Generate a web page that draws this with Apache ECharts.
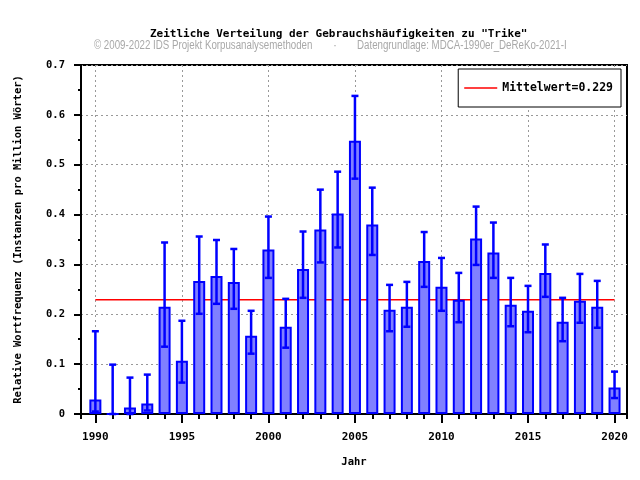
<!DOCTYPE html>
<html><head><meta charset="utf-8">
<script src="https://cdn.jsdelivr.net/npm/echarts@6/dist/echarts.min.js"></script>
<style>html,body{margin:0;padding:0;background:#fff}#c{width:640px;height:480px}</style>
</head><body><div id="c"></div>
<script>
const years = [1990,1991,1992,1993,1994,1995,1996,1997,1998,1999,2000,2001,2002,2003,2004,2005,2006,2007,2008,2009,2010,2011,2012,2013,2014,2015,2016,2017,2018,2019,2020];
const values = [0.029,0,0.013,0.021,0.215,0.107,0.267,0.277,0.265,0.157,0.330,0.175,0.291,0.370,0.402,0.548,0.380,0.209,0.215,0.307,0.255,0.229,0.352,0.324,0.219,0.207,0.283,0.185,0.227,0.215,0.053];
const errLow = [0.005,0,0,0.007,0.135,0.063,0.201,0.221,0.211,0.121,0.273,0.133,0.233,0.304,0.334,0.472,0.319,0.166,0.175,0.255,0.207,0.184,0.299,0.273,0.176,0.164,0.235,0.146,0.183,0.173,0.032];
const errHigh = [0.166,0.099,0.073,0.079,0.344,0.187,0.356,0.349,0.331,0.207,0.396,0.231,0.366,0.450,0.486,0.638,0.454,0.259,0.265,0.365,0.313,0.283,0.416,0.384,0.273,0.257,0.340,0.233,0.281,0.267,0.085];
const meanValue = 0.229;

const mono = '"DejaVu Sans Mono", monospace';
const sans = '"Liberation Sans", Arial, sans-serif';
const chart = echarts.init(document.getElementById('c'), null, {renderer: 'canvas'});
const xMin = 1989.17, xMax = 2020.72;
const meanName = 'Mittelwert=' + meanValue;

const option = {
  animation: false,
  backgroundColor: '#fff',
  graphic: [
    {type: 'text', x: 150, y: 34, style: {text: 'Zeitliche Verteilung der Gebrauchshäufigkeiten zu "Trike"', font: 'bold 11px ' + mono, fill: '#000', verticalAlign: 'middle'}},
    {type: 'text', x: 94, y: 46, scaleX: 0.81, style: {text: '© 2009-2022 IDS Projekt Korpusanalysemethoden', font: '12px ' + sans, fill: '#a8a8a8', verticalAlign: 'middle'}},
    {type: 'text', x: 333, y: 46, style: {text: '·', font: '12px ' + sans, fill: '#a8a8a8', verticalAlign: 'middle'}},
    {type: 'text', x: 357, y: 46, scaleX: 0.81, style: {text: 'Datengrundlage: MDCA-1990er_DeReKo-2021-I', font: '12px ' + sans, fill: '#a8a8a8', verticalAlign: 'middle'}}
  ],
  grid: {left: 81, right: 13, top: 65, bottom: 66, show: true, borderColor: '#000', borderWidth: 2, backgroundColor: 'transparent'},
  legend: {
    right: 19, top: 69, orient: 'vertical',
    backgroundColor: '#fff', borderColor: '#000', borderWidth: 1,
    padding: [13, 8, 13, 6],
    itemWidth: 33, itemHeight: 12, itemGap: 4,
    textStyle: {fontFamily: mono, fontWeight: 'bold', fontSize: 11.5, color: '#000'},
    data: [{name: meanName, icon: 'path://M0,0L33,0L33,1.5L0,1.5Z'}]
  },
  xAxis: [
    {type: 'value', min: xMin, max: xMax, splitNumber: 31, minInterval: 1, maxInterval: 1,
     axisLine: {show: true, lineStyle: {color: '#000', width: 2}},
     axisTick: {show: true, length: 5, inside: false, lineStyle: {color: '#000', width: 2}},
     axisLabel: {show: false}, splitLine: {show: false}},
    {type: 'value', min: xMin, max: xMax, splitNumber: 6, minInterval: 5, maxInterval: 5, position: 'bottom',
     axisLine: {show: false},
     axisTick: {show: true, length: 9, lineStyle: {color: '#000', width: 2}},
     axisLabel: {show: true, showMinLabel: false, showMaxLabel: false, margin: 18, fontFamily: mono, fontWeight: 'bold', fontSize: 11, color: '#000', formatter: v => String(v)},
     splitLine: {show: true, showMinLine: false, showMaxLine: false, lineStyle: {color: '#999', type: [2, 3], width: 1}},
     name: 'Jahr', nameLocation: 'middle', nameGap: 43,
     nameTextStyle: {fontFamily: mono, fontWeight: 'bold', fontSize: 10.5, color: '#000'}}
  ],
  yAxis: {
    type: 'value', min: 0, max: 0.7, interval: 0.1,
    axisLine: {show: true, lineStyle: {color: '#000', width: 2}},
    axisTick: {show: true, length: 7, lineStyle: {color: '#000', width: 2}},
    minorTick: {show: true, splitNumber: 2, length: 3, lineStyle: {color: '#000', width: 2}},
    axisLabel: {margin: 16, fontFamily: mono, fontWeight: 'bold', fontSize: 10.5, color: '#000',
      formatter: v => (v === 0 ? '0' : v.toFixed(1))},
    splitLine: {show: true, lineStyle: {color: '#999', type: [2, 3], width: 1}},
    name: 'Relative Wortfrequenz (Instanzen pro Million Wörter)', nameLocation: 'middle', nameGap: 57,
    nameTextStyle: {fontFamily: mono, fontWeight: 'bold', fontSize: 10.5, color: '#000'}
  },
  series: [
    {name: meanName, type: 'line', xAxisIndex: 0, z: 1, symbol: 'none',
     lineStyle: {color: '#ff0000', width: 1.5}, itemStyle: {color: '#ff0000'},
     data: [[years[0], meanValue], [years[years.length - 1], meanValue]]},
    {name: 'Werte', type: 'bar', xAxisIndex: 0, z: 3, barWidth: 12,
     itemStyle: {color: '#8080ff', borderColor: '#0000ff', borderWidth: 2},
     data: years.map((y, i) => [y, values[i]])},
    {name: 'Fehler', type: 'custom', xAxisIndex: 0, z: 4,
     data: years.map((y, i) => [y, errLow[i], errHigh[i]]),
     renderItem: function (params, api) {
       const lo = api.coord([api.value(0), api.value(1)]);
       const hi = api.coord([api.value(0), api.value(2)]);
       const hw = 3.5;
       const st = {stroke: '#0000ff', lineWidth: 2.5};
       return {type: 'group', children: [
         {type: 'line', shape: {x1: lo[0], y1: lo[1], x2: hi[0], y2: hi[1]}, style: st},
         {type: 'line', shape: {x1: lo[0] - hw, y1: lo[1], x2: lo[0] + hw, y2: lo[1]}, style: st},
         {type: 'line', shape: {x1: hi[0] - hw, y1: hi[1], x2: hi[0] + hw, y2: hi[1]}, style: st}
       ]};
     }}
  ]
};
chart.setOption(option);
</script></body></html>
